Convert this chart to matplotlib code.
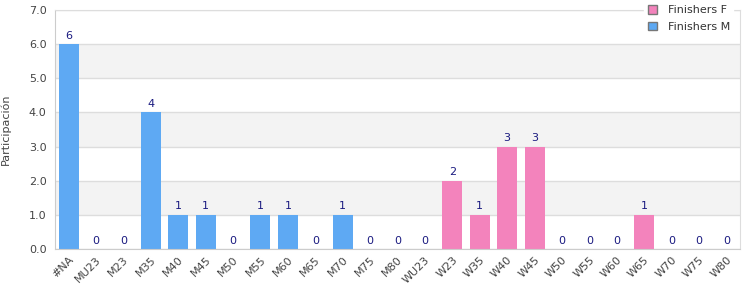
import matplotlib
matplotlib.use('Agg')
import matplotlib.pyplot as plt
from matplotlib.patches import Patch
import numpy as np

# Categories and series values
categories = ['#NA', 'MU23', 'M23', 'M35', 'M40', 'M45', 'M50', 'M55', 'M60', 'M65',
              'M70', 'M75', 'M80', 'WU23', 'W23', 'W35', 'W40', 'W45', 'W50', 'W55',
              'W60', 'W65', 'W70', 'W75', 'W80']
finishers_m = [6, 0, 0, 4, 1, 1, 0, 1, 1, 0, 1, 0, 0, 0, 0, 0, 0, 0, 0, 0, 0, 0, 0, 0, 0]
finishers_f = [0, 0, 0, 0, 0, 0, 0, 0, 0, 0, 0, 0, 0, 0, 2, 1, 3, 3, 0, 0, 0, 1, 0, 0, 0]

color_m = '#5ea9f3'
color_f = '#f383bc'

fig = plt.figure(figsize=(7.5, 3), dpi=100)
ax = fig.add_axes([0.0733, 0.17, 0.9134, 0.7967])

x = np.arange(len(categories))
m = np.array(finishers_m)
f = np.array(finishers_f)

# Alternating background bands
for y0 in range(0, 7):
    if y0 % 2 == 1:
        ax.axhspan(y0, y0 + 1, color='#f3f3f3', zorder=0, lw=0)
ax.set_ylim(0, 7)
ax.set_xlim(-0.5, len(categories) - 0.5)
ax.set_yticks(np.arange(0, 7.5, 1.0))
ax.set_yticklabels([f'{v:.1f}' for v in np.arange(0, 7.5, 1.0)])
ax.grid(axis='y', color='#dddddd', lw=1, zorder=1)
ax.set_axisbelow(True)

ax.bar(x, m, width=0.73, color=color_m, zorder=2)
ax.bar(x, f, width=0.73, bottom=m, color=color_f, zorder=2)

total = m + f
for xi, t in zip(x, total):
    ax.text(xi, t + 0.1, str(t), ha='center', va='bottom', fontsize=8,
            color='#1a1a80', zorder=3)

ax.set_xticks(x)
ax.set_xticklabels(categories, rotation=45, ha='right', rotation_mode='anchor',
                   fontsize=8, color='#444444')
ax.tick_params(axis='y', labelsize=8, labelcolor='#444444', length=0, pad=6)
ax.tick_params(axis='x', length=0, pad=4)
ax.set_ylabel('Participación', fontsize=8, color='#444444', labelpad=13)

for s in ax.spines.values():
    s.set_color('#dddddd')
ax.spines['left'].set_color('#cccccc')
ax.spines['bottom'].set_color('#cccccc')

handles = [Patch(facecolor=color_f, edgecolor='#777777', label='Finishers F'),
           Patch(facecolor=color_m, edgecolor='#777777', label='Finishers M')]
leg = fig.legend(handles=handles, loc='upper right', bbox_to_anchor=(0.985, 1.012),
                 fontsize=8, frameon=True, handlelength=0.8, handleheight=0.8,
                 handletextpad=1.0, labelspacing=0.55, borderpad=0.3)
leg.get_frame().set_edgecolor('white')
leg.get_frame().set_facecolor('white')
leg.get_frame().set_alpha(1)
for t in leg.get_texts():
    t.set_color('#333333')

fig.savefig('out.png', dpi=100)
